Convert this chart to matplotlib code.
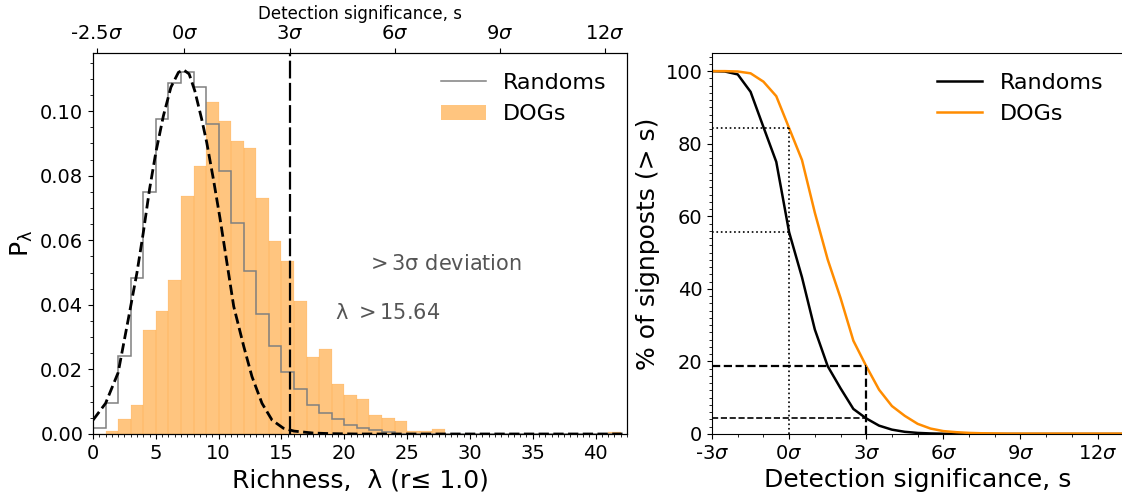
import numpy as np
import matplotlib
matplotlib.use('Agg')
import matplotlib.pyplot as plt
from matplotlib.ticker import MultipleLocator
from matplotlib.lines import Line2D

# --- left panel: richness histograms (density per unit bin) ---
bin_edges = list(range(0, 43))
dogs_p = [0.0, 0.0009, 0.0046, 0.0090, 0.0323, 0.0382, 0.0478, 0.0736, 0.0829, 0.1027,
          0.0969, 0.0907, 0.0887, 0.0730, 0.0599, 0.0537, 0.0413, 0.0240, 0.0264, 0.0155,
          0.0121, 0.0109, 0.0059, 0.0050, 0.0041, 0.0010, 0.0010, 0.0015, 0.0, 0.0,
          0.0, 0.0, 0.0, 0.0, 0.0, 0.0, 0.0, 0.0, 0.0, 0.0, 0.0, 0.0007]
rand_p = [0.0018, 0.0095, 0.0242, 0.0482, 0.0749, 0.0976, 0.1088, 0.1122, 0.1075, 0.0961,
          0.0814, 0.0654, 0.0505, 0.0373, 0.0273, 0.0192, 0.0139, 0.0091, 0.0064, 0.0046,
          0.0028, 0.0020, 0.0012, 0.0007, 0.0, 0.0, 0.0, 0.0, 0.0, 0.0,
          0.0, 0.0, 0.0, 0.0, 0.0, 0.0, 0.0, 0.0, 0.0, 0.0, 0.0, 0.0]

# fitted model curve for randoms
fit_lam = [0.0, 1.0, 2.0, 2.8, 3.5, 4.0, 4.5, 5.0, 5.6, 6.2, 6.8, 7.2, 7.65, 8.1, 8.65,
           9.05, 9.6, 10.1, 10.6, 11.2, 12.0, 12.65, 13.45, 14.25, 15.15, 16.0, 17.5, 19.0, 21.0, 42.5]
fit_p = [0.0043, 0.0095, 0.0190, 0.0354, 0.0500, 0.0623, 0.0758, 0.0872, 0.0985, 0.1074,
         0.1120, 0.1128, 0.1115, 0.1063, 0.0975, 0.0903, 0.0785, 0.0670, 0.0545, 0.0395,
         0.0271, 0.0178, 0.0095, 0.0043, 0.0018, 0.0009, 0.0003, 0.0001, 0.0, 0.0]

lam_mean = 7.27
lam_sigma = 2.79
lam_cut = 15.64
top_sig = [-2.5, 0, 3, 6, 9, 12]
top_labels = ['-2.5$\\sigma$', '0$\\sigma$', '3$\\sigma$', '6$\\sigma$', '9$\\sigma$', '12$\\sigma$']

# --- right panel: cumulative fraction above significance ---
sig = [-3, -2.5, -2, -1.5, -1, -0.5, 0, 0.5, 1, 1.5, 2, 2.5, 3, 3.5, 4, 4.5, 5, 5.5, 6,
       6.5, 7, 7.5, 8, 8.5, 9, 9.5, 10, 10.5, 11, 11.5, 12, 12.5, 13]
cum_rand = [100, 99.9, 99.1, 94.3, 84.6, 75.0, 55.6, 43.2, 28.8, 18.7, 12.6, 6.9, 4.3, 2.3,
            1.2, 0.6, 0.3, 0.15, 0.07, 0.03, 0.02, 0.01, 0, 0, 0, 0, 0, 0, 0, 0, 0, 0, 0]
cum_dogs = [100, 100, 99.9, 99.4, 97.1, 93.1, 84.3, 75.5, 61.0, 48.1, 37.5, 25.7, 18.7, 12.2,
            7.7, 5.0, 2.8, 1.5, 0.8, 0.5, 0.3, 0.2, 0.15, 0.1, 0.1, 0.1, 0.1, 0.1, 0.1, 0.1,
            0.1, 0.1, 0.1]
sig_ticks = [-3, 0, 3, 6, 9, 12]
sig_labels = ['-3$\\sigma$', '0$\\sigma$', '3$\\sigma$', '6$\\sigma$', '9$\\sigma$', '12$\\sigma$']

fig = plt.figure(figsize=(11.22, 4.92), dpi=100)
ax = fig.add_axes([0.0829, 0.1179, 0.4759, 0.7744])
# randoms first so the orange bars tint the step line
ax.hist(bin_edges[:-1], bins=bin_edges, weights=rand_p, histtype='step', color='gray',
        linewidth=1.1)
ax.hist(bin_edges[:-1], bins=bin_edges, weights=dogs_p, color='darkorange', alpha=0.5,
        edgecolor='darkorange', linewidth=0.15)
ax.plot(fit_lam, fit_p, 'k--', lw=2)
ax.axvline(lam_cut, color='k', lw=1.6, dashes=(8, 2))
ax.set_xlim(0, 42.5)
ax.set_ylim(0, 0.118)
ax.xaxis.set_minor_locator(MultipleLocator(0.5))
ax.yaxis.set_minor_locator(MultipleLocator(0.005))
ax.tick_params(labelsize=14)
ax.set_xlabel('Richness,  λ (r≤ 1.0)', fontsize=18)
ax.set_ylabel(r'P$_\mathregular{λ}$', fontsize=18)
ax.text(21.7, 0.0525, r'$>$3σ deviation', fontsize=15, color='#555555', va='center')
ax.text(19.3, 0.0376, r'λ $>$15.64', fontsize=15, color='#555555', va='center')
h = [Line2D([], [], color='gray', lw=1.1),
     plt.Rectangle((0, 0), 1, 1, color='darkorange', alpha=0.5, lw=0)]
ax.legend(h, ['Randoms', 'DOGs'], frameon=False, fontsize=16, loc='upper right')

top = ax.twiny()
top.set_xlim(ax.get_xlim())
top.set_xticks([lam_mean + s * lam_sigma for s in top_sig])
top.set_xticklabels(top_labels)
top.tick_params(labelsize=14)
top.set_xlabel('Detection significance, s', fontsize=12)

ax2 = fig.add_axes([0.6346, 0.1179, 0.3665, 0.7744])
ax2.plot(sig, cum_rand, color='k', lw=1.8, label='Randoms')
ax2.plot(sig, cum_dogs, color='darkorange', lw=1.8, label='DOGs')
d0 = cum_dogs[sig.index(0)]
r0 = cum_rand[sig.index(0)]
d3 = cum_dogs[sig.index(3)]
r3 = cum_rand[sig.index(3)]
ax2.plot([-3, 0], [d0, d0], 'k:', lw=1.2)
ax2.plot([-3, 0], [r0, r0], 'k:', lw=1.2)
ax2.plot([0, 0], [0, d0], 'k:', lw=1.2)
ax2.plot([-3, 3], [d3, d3], 'k--', lw=1.6)
ax2.plot([-3, 3], [r3, r3], 'k--', lw=1.2)
ax2.plot([3, 3], [0, d3], 'k--', lw=1.6)
ax2.set_xlim(-3, 13)
ax2.set_ylim(0, 105)
ax2.set_xticks(sig_ticks)
ax2.set_xticklabels(sig_labels)
ax2.xaxis.set_minor_locator(MultipleLocator(1))
ax2.yaxis.set_minor_locator(MultipleLocator(2))
ax2.tick_params(labelsize=14)
ax2.set_xlabel('Detection significance, s', fontsize=18)
ax2.set_ylabel('% of signposts (> s)', fontsize=18)
ax2.legend(frameon=False, fontsize=16, loc='upper right')

fig.savefig('out.png', dpi=100)
